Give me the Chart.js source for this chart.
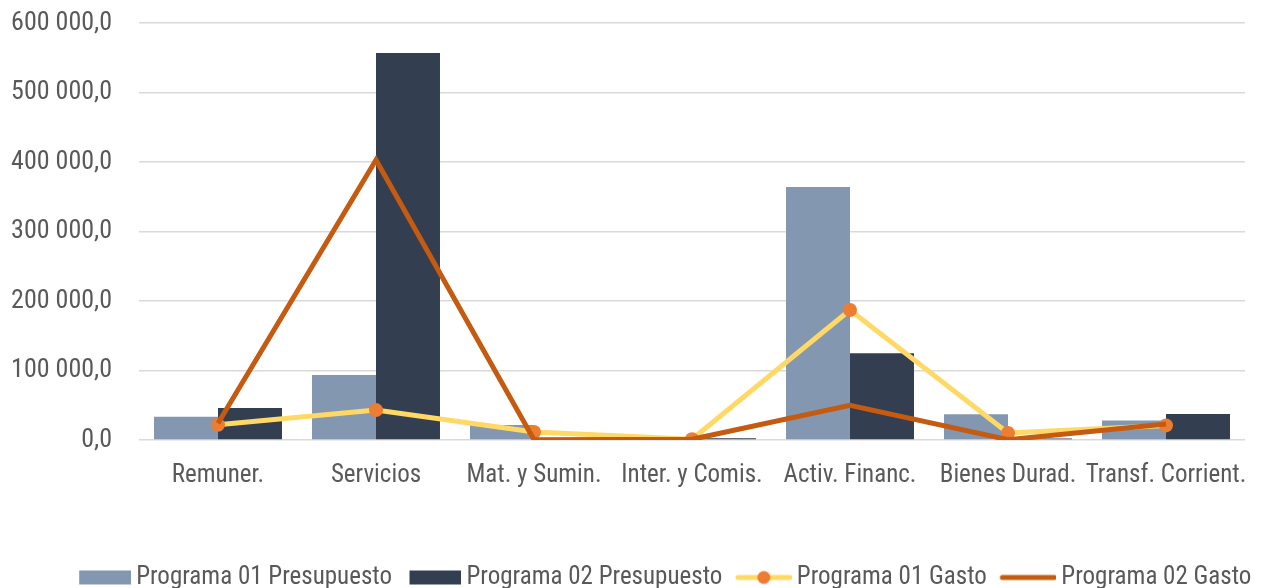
<!DOCTYPE html>
<html>
<head>
<meta charset="utf-8">
<script src="https://cdn.jsdelivr.net/npm/chart.js@4"></script>
<style>
  html, body { margin: 0; padding: 0; background: #fff; }
  #wrap { width: 1264px; height: 588px; }
</style>
</head>
<body>
<div id="wrap"><canvas id="chart"></canvas></div>
<script>
// data
const categories = ['Remuner.', 'Servicios', 'Mat. y Sumin.', 'Inter. y Comis.', 'Activ. Financ.', 'Bienes Durad.', 'Transf. Corrient.'];
const prog01Presupuesto = [33500, 93500, 21500, 0, 364000, 37000, 28000];
const prog02Presupuesto = [46000, 557000, 500, 2500, 125000, 2000, 37500];
const prog01Gasto = [22000, 43000, 11500, 1000, 187000, 10000, 21000];
const prog02Gasto = [24000, 403000, 500, 1000, 50000, 500, 23000];
const yTicks = [0, 100000, 200000, 300000, 400000, 500000, 600000];

const FONT = "'Roboto Condensed', 'Liberation Sans', sans-serif";
const TEXT = '#595959';

function fmt(v){
  return String(v).replace(/\B(?=(\d{3})+(?!\d))/g, ' ') + ',0'
}

// legend symbols drawn into little canvases
const SLOT = 48
function symbol(kind, fill, line){
  const c = document.createElement('canvas')
  c.width = 63
  c.height = 16
  const g = c.getContext('2d')
  if (kind === 'box') {
    g.fillStyle = fill
    g.fillRect(63 - 52, 1, 52, 14)
  } else {
    g.strokeStyle = line
    g.lineWidth = 5
    g.lineCap = 'round'
    g.beginPath()
    g.moveTo(63 - 54, 8)
    g.lineTo(61, 8)
    g.stroke()
    if (fill) {
      g.fillStyle = fill
      g.beginPath()
      g.arc(63 - 28, 8, 6.5, 0, Math.PI * 2)
      g.fill()
    }
  }
  return c
}
const legendSymbols = [
  symbol('box', '#8497B0'),
  symbol('box', '#333F50'),
  symbol('line', '#ED7D31', '#FFD966'),
  symbol('line', null, '#C55A11')
]

// the legend in the picture sits a bit right of centre
const shiftLegend = {
  id: 'shiftLegend',
  afterLayout: function(chart){
    chart.legend.left += 41
    chart.legend.right += 41
  }
}

new Chart(document.getElementById('chart'), {
  type: 'bar',
  data: {
    labels: categories,
    datasets: [
      {
        label: 'Programa 01 Presupuesto',
        data: prog01Presupuesto,
        backgroundColor: '#8497B0',
        order: 2,
        categoryPercentage: 0.81,
        barPercentage: 1
      },
      {
        label: 'Programa 02 Presupuesto',
        data: prog02Presupuesto,
        backgroundColor: '#333F50',
        order: 2,
        categoryPercentage: 0.81,
        barPercentage: 1
      },
      {
        type: 'line',
        label: 'Programa 01 Gasto',
        data: prog01Gasto,
        borderColor: '#FFD966',
        backgroundColor: '#ED7D31',
        borderWidth: 5,
        pointRadius: 7,
        pointBorderWidth: 0,
        pointBackgroundColor: '#ED7D31',
        tension: 0,
        order: 1
      },
      {
        type: 'line',
        label: 'Programa 02 Gasto',
        data: prog02Gasto,
        borderColor: '#C55A11',
        backgroundColor: '#C55A11',
        borderWidth: 5,
        pointRadius: 0,
        tension: 0,
        order: 0
      }
    ]
  },
  plugins: [shiftLegend],
  options: {
    responsive: true,
    maintainAspectRatio: false,
    animation: false,
    layout: { padding: { top: 23, right: 19, left: 0, bottom: -12 } },
    plugins: {
      tooltip: { enabled: false },
      legend: {
        position: 'bottom',
        labels: {
          font: { family: FONT, size: 25 },
          color: TEXT,
          usePointStyle: true,
          pointStyleWidth: SLOT,
          padding: 14,
          sort: (a, b) => a.datasetIndex - b.datasetIndex,
          generateLabels: function(chart){
            const items = Chart.defaults.plugins.legend.labels.generateLabels(chart)
            items.forEach(function(it){
              it.pointStyle = legendSymbols[it.datasetIndex]
            })
            return items
          }
        }
      }
    },
    scales: {
      x: {
        grid: { display: false, drawTicks: false },
        border: { display: false },
        ticks: {
          font: { family: FONT, size: 25 },
          color: TEXT,
          padding: 21,
          autoSkip: false,
          maxRotation: 0,
          minRotation: 0
        },
        afterFit: function(scale){
          scale.height = 111
          scale.paddingLeft = 0
          scale.paddingRight = 0
        }
      },
      y: {
        min: 0,
        max: 600000,
        afterBuildTicks: function(scale){
          scale.ticks = yTicks.map(v => ({ value: v }))
        },
        grid: { color: '#D9D9D9', lineWidth: 1.5, drawTicks: false },
        border: { display: false },
        ticks: {
          font: { family: FONT, size: 26 },
          color: TEXT,
          padding: 27,
          callback: v => fmt(v)
        },
        afterFit: function(scale){
          scale.width = 139
          scale.paddingTop = 0
          scale.paddingBottom = 0
        }
      }
    }
  }
});
</script>
</body>
</html>
